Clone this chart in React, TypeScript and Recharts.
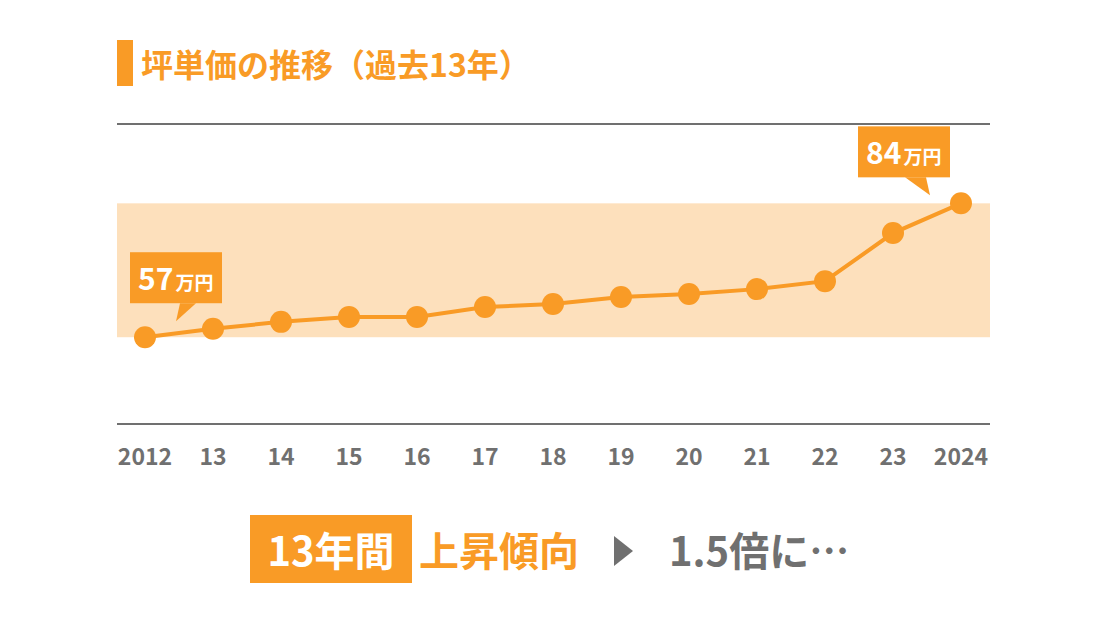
import { LineChart, Line, XAxis, YAxis, ReferenceArea, ReferenceLine, LabelList } from 'recharts'

const years = ['2012', '13', '14', '15', '16', '17', '18', '19', '20', '21', '22', '23', '2024']
const prices = [57, 58.7, 60.1, 61.1, 61.1, 63.1, 63.7, 65.1, 65.7, 66.7, 68.3, 78.0, 84]
const bandRange = [57, 84]
const yDomain = [39.5, 100]

const data = years.map((year, i) => ({ year, price: prices[i] }))

const ORANGE = '#F99B26'
const BAND = '#FDE0BC'
const GRAY = '#707070'
const FONT = '"Noto Sans CJK JP", "Noto Sans", sans-serif'
const PAD_L = 28
const PAD_R = 29

const YearTick = ({ x, y, payload }: any) => (
  <text
    x={x}
    y={y + 41}
    textAnchor="middle"
    fill={GRAY}
    fontSize={23}
    fontWeight={700}
    fontFamily={FONT}
  >
    {payload.value}
  </text>
)

// band runs the full plot width, including the axis padding
const Band = ({ x, y, width, height }: any) => (
  <rect x={x - PAD_L} y={y} width={width + PAD_L + PAD_R} height={height} fill={BAND} />
)

// speech-bubble callouts on the first and last point
const Callout = ({ x, y, index, value }: any) => {
  const last = prices.length - 1
  if (index !== 0 && index !== last) return null
  const first = index === 0
  const left = first ? x - 15 : x - 103
  const top = first ? y - 85 : y - 77
  const bottom = top + 51
  const tri = first
    ? `${x + 35},${bottom} ${x + 51},${bottom} ${x + 31},${y - 16}`
    : `${x - 56},${bottom} ${x - 35},${bottom} ${x - 31},${y - 8}`
  return (
    <g>
      <rect x={left} y={top} width={92} height={51} fill={ORANGE} />
      <polygon points={tri} fill={ORANGE} />
      <text x={left + 8} y={top + 38} fill="#fff" fontFamily={FONT} fontWeight={700}>
        <tspan fontSize={30}>{value}</tspan>
        <tspan fontSize={19} dx={2}>万円</tspan>
      </text>
    </g>
  )
}

const bottomText = {
  position: 'absolute' as const,
  top: 515,
  height: 68,
  lineHeight: '68px',
  fontSize: 40,
  fontWeight: 700,
  whiteSpace: 'nowrap' as const
}

export default function App() {
  return (
    <div style={{ position: 'absolute', left: 0, top: 0, width: 1104, height: 624, background: '#fff', fontFamily: FONT }}>
      {/* Title */}
      <div style={{ position: 'absolute', left: 117, top: 40, width: 16, height: 46, background: ORANGE }} />
      <div style={{
        position: 'absolute',
        left: 141,
        top: 40,
        height: 46,
        lineHeight: '46px',
        fontSize: 32,
        fontWeight: 700,
        color: ORANGE,
        whiteSpace: 'nowrap'
      }}>
        坪単価の推移（過去13年）
      </div>

      <LineChart
        width={1104}
        height={624}
        data={data}
        margin={{ top: 124, right: 114, bottom: 160, left: 117 }}
      >
        <ReferenceArea y1={bandRange[0]} y2={bandRange[1]} shape={<Band />} />
        <ReferenceLine y={yDomain[1]} stroke={GRAY} strokeWidth={2} />
        <XAxis
          dataKey="year"
          height={40}
          padding={{ left: PAD_L, right: PAD_R }}
          axisLine={{ stroke: GRAY, strokeWidth: 2 }}
          tickLine={false}
          tickSize={0}
          tickMargin={0}
          interval={0}
          tick={<YearTick />}
        />
        <YAxis hide domain={yDomain} type="number" />
        <Line
          type="linear"
          dataKey="price"
          stroke={ORANGE}
          strokeWidth={4}
          dot={{ r: 11, fill: ORANGE, stroke: 'none' }}
          activeDot={false}
          isAnimationActive={false}
        >
          <LabelList dataKey="price" content={<Callout />} />
        </Line>
      </LineChart>

      {/* Summary line */}
      <div style={{ ...bottomText, left: 250, width: 162, background: ORANGE, color: '#fff', textAlign: 'center' }}>
        13年間
      </div>
      <div style={{ ...bottomText, left: 419, color: ORANGE }}>
        上昇傾向
      </div>
      <div style={{
        position: 'absolute',
        left: 614,
        top: 536,
        width: 0,
        height: 0,
        borderTop: '15px solid transparent',
        borderBottom: '15px solid transparent',
        borderLeft: `19px solid ${GRAY}`
      }} />
      <div style={{ ...bottomText, left: 669, color: GRAY }}>
        1.5倍に…
      </div>
    </div>
  )
}
